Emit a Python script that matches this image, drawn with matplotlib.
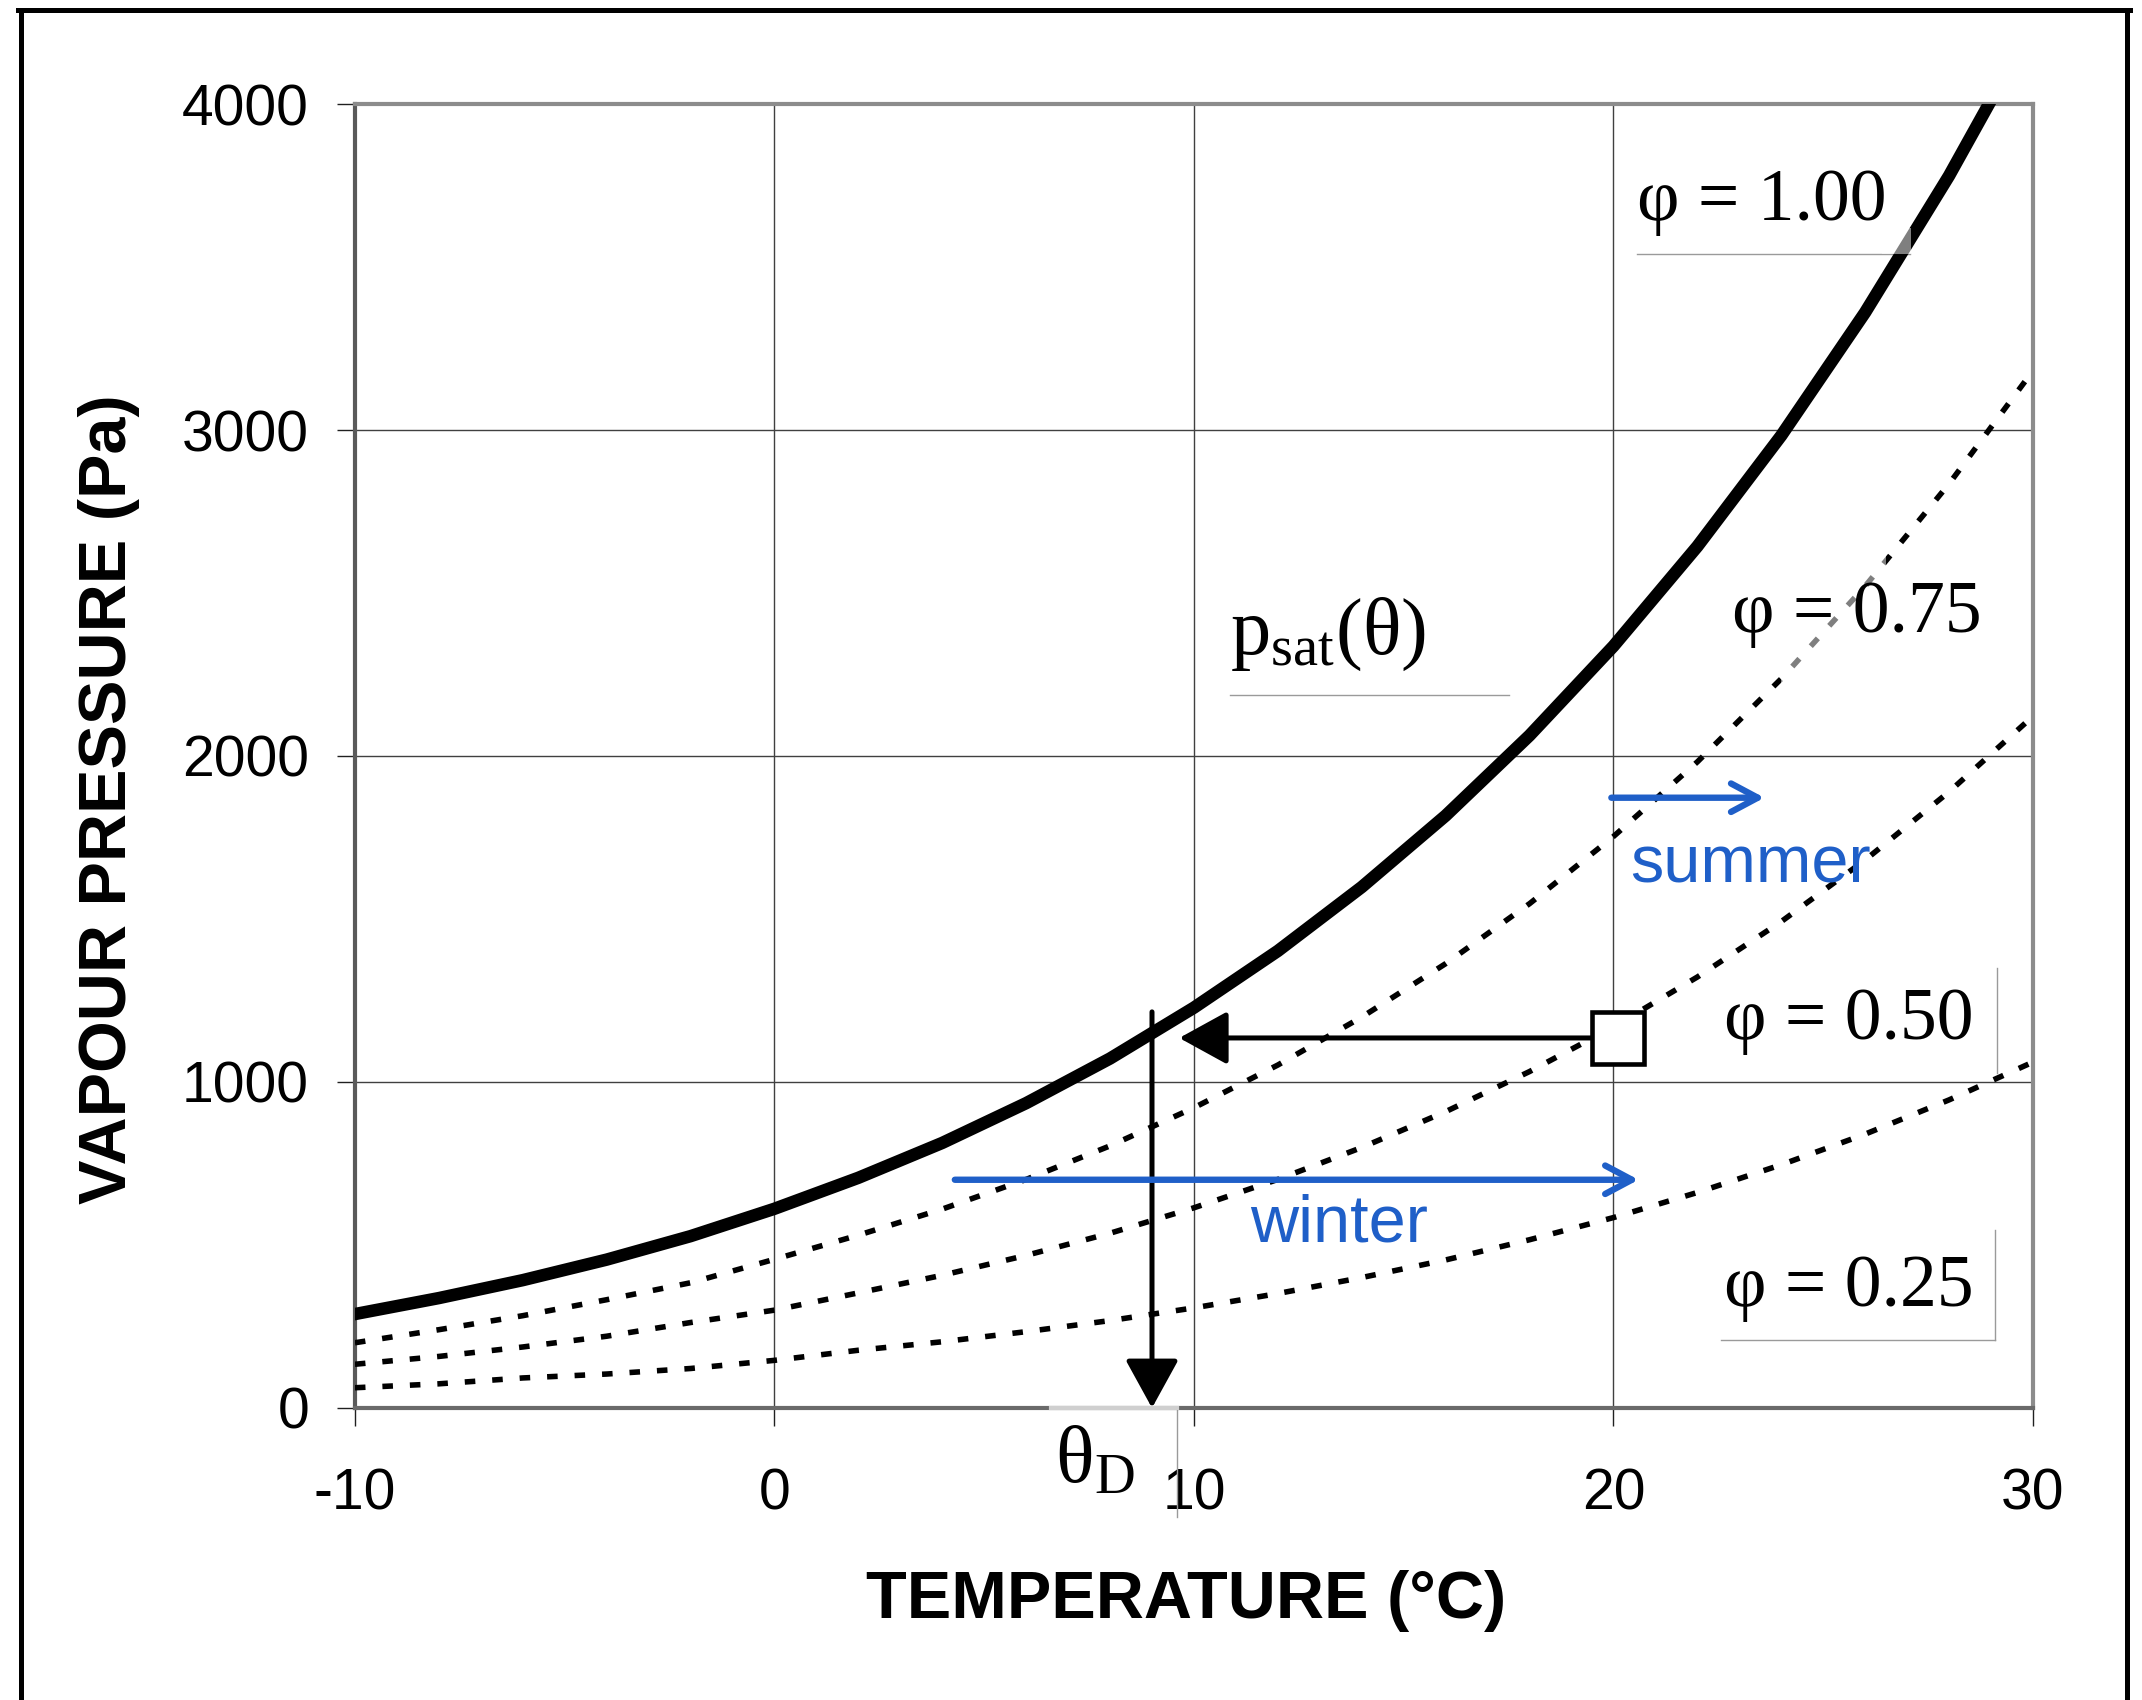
"""
Vapour pressure vs temperature (psychrometric sketch with dew point).
"""

import matplotlib.pyplot as plt
from matplotlib.lines import Line2D
from matplotlib.patches import Rectangle


plt.rcParams.update(
    {
        "font.family": "Liberation Sans",
        "mathtext.fontset": "custom",
        "mathtext.rm": "Liberation Serif",
        "mathtext.it": "Liberation Serif:italic",
    }
)


# ============================================================================
# Data
# ============================================================================

temperature = [-10, -8, -6, -4, -2, 0, 2, 4, 6, 8, 10,
               12, 14, 16, 18, 20, 22, 24, 26, 28, 30]

p_sat = [288, 337, 392, 455, 527, 611, 706, 813, 935, 1072, 1228,
         1402, 1598, 1817, 2063, 2337, 2643, 2983, 3361, 3780, 4243]

p_075 = [200, 240, 283, 332, 384, 456, 530, 610, 701, 804, 921,
         1052, 1199, 1363, 1547, 1753, 1982, 2237, 2521, 2835, 3182]

p_050 = [134, 158, 187, 220, 262, 300, 353, 407, 468, 536, 614,
         701, 799, 909, 1032, 1169, 1322, 1492, 1681, 1890, 2122]

p_025 = [62, 74, 92, 104, 121, 146, 177, 203, 234, 268, 307,
         351, 400, 454, 516, 584, 661, 746, 840, 945, 1061]

x_ticks = [-10, 0, 10, 20, 30]
y_ticks = [0, 1000, 2000, 3000, 4000]

# indoor state and its dew point
room_temp = 20.1
room_pressure = 1135
dew_point = 9.0
dew_arrow_top = 1215
sat_hit_temp = 9.65

# seasonal vapour pressure shifts
winter_start, winter_end, winter_level = 4.3, 20.6, 700
summer_start, summer_end, summer_level = 19.95, 23.6, 1872

BLUE = "#1f5fc8"
SERIF = "Liberation Serif"


# ============================================================================
# Figure
# ============================================================================

fig = plt.figure(figsize=(21.42, 17), dpi=100)
ax = fig.add_axes([0.1657, 0.1718, 0.7834, 0.7670])

ax.plot(temperature, p_sat, color="black", lw=9,
        solid_joinstyle="round", zorder=3)

dot_style = (0, (1.9, 3.05))
for series in (p_075, p_050, p_025):
    ax.plot(temperature, series, color="black", lw=4.0,
            linestyle=dot_style, dash_capstyle="butt", zorder=3)

ax.set_xlim(-10, 30)
ax.set_ylim(0, 4000)
ax.set_xticks(x_ticks)
ax.set_yticks(y_ticks)
ax.set_xticklabels([str(t) for t in x_ticks])
ax.set_yticklabels([str(t) for t in y_ticks])

ax.grid(True, color="#404040", lw=1.0)
ax.set_axisbelow(True)

ax.tick_params(axis="both", direction="out", length=13, width=1.0,
               color="#202020", labelsize=41)
ax.tick_params(axis="x", pad=30)
ax.tick_params(axis="y", pad=20)

for side, col in (("top", "#8c8c8c"), ("right", "#8c8c8c"),
                  ("left", "#5a5a5a"), ("bottom", "#6a6a6a")):
    ax.spines[side].set_color(col)
    ax.spines[side].set_linewidth(3.0)

fig.text(0.5537, 0.0582, "TEMPERATURE (°C)", fontsize=48,
         fontweight="bold", ha="center", va="center")
fig.text(0.0509, 0.530, "VAPOUR PRESSURE (Pa)", fontsize=48,
         fontweight="bold", ha="center", va="center", rotation=90)

# ----------------------------------------------------------------------------
# Dew point construction
# ----------------------------------------------------------------------------

black_head = "-|>,head_length=1.0,head_width=0.55"
ax.annotate("", xy=(sat_hit_temp, room_pressure),
            xytext=(room_temp, room_pressure),
            arrowprops=dict(arrowstyle=black_head, mutation_scale=30,
                            lw=3.6, color="black", shrinkA=0, shrinkB=0),
            zorder=5)
ax.annotate("", xy=(dew_point, 0), xytext=(dew_point, dew_arrow_top),
            arrowprops=dict(arrowstyle=black_head, mutation_scale=30,
                            lw=3.6, color="black", shrinkA=0, shrinkB=0),
            annotation_clip=False, zorder=5)
ax.plot([room_temp], [room_pressure], marker="s", markersize=37,
        markerfacecolor="white", markeredgecolor="black",
        markeredgewidth=3.3, zorder=6)

# ----------------------------------------------------------------------------
# Seasonal arrows
# ----------------------------------------------------------------------------

blue_head = "->,head_length=0.6,head_width=0.32"
ax.annotate("", xy=(winter_end, winter_level),
            xytext=(winter_start, winter_level),
            arrowprops=dict(arrowstyle=blue_head, mutation_scale=32,
                            lw=4.6, color=BLUE, shrinkA=0, shrinkB=0),
            zorder=5)
ax.annotate("", xy=(summer_end, summer_level),
            xytext=(summer_start, summer_level),
            arrowprops=dict(arrowstyle=blue_head, mutation_scale=32,
                            lw=4.6, color=BLUE, shrinkA=0, shrinkB=0),
            zorder=5)
ax.text(11.33, 511, "winter", color=BLUE, fontsize=48,
        va="baseline", ha="left", zorder=7)
ax.text(20.4, 1613, "summer", color=BLUE, fontsize=48,
        va="baseline", ha="left", zorder=7)

# ----------------------------------------------------------------------------
# Curve labels (text boxes from the original drawing)
# ----------------------------------------------------------------------------

labels = [
    (20.55, 3644, "φ = 1.00"),
    (22.83, 2379, "φ = 0.75"),
    (22.64, 1131, "φ = 0.50"),
    (22.64, 314, "φ = 0.25"),
]
for x, y, txt in labels:
    ax.text(x, y, txt, family=SERIF, fontsize=53, va="baseline",
            ha="left", zorder=7)

ax.text(10.85, 2312, r"$\mathrm{p_{sat}(θ)}$", fontsize=58,
        va="baseline", ha="left", zorder=7)
ax.text(6.68, -230, r"$\mathrm{θ_D}$", fontsize=58, va="baseline",
        ha="left", zorder=7, clip_on=False)

# faint box edges and half-transparent box fills
box_kw = dict(color="#9a9a9a", lw=1.0, zorder=2, clip_on=False)
ax.plot([20.55, 27.07], [3540, 3540], **box_kw)
ax.plot([10.85, 17.52], [2186, 2186], **box_kw)
ax.plot([29.15, 29.15], [1026, 1349], **box_kw)
ax.plot([29.09, 29.09], [209, 545], **box_kw)
ax.plot([22.57, 29.09], [209, 209], **box_kw)
ax.plot([9.6, 9.6], [0, -335], **box_kw)
ax.plot([6.6, 9.6], [0, 0], color="#cfcfcf", lw=3.0, zorder=4,
        clip_on=False)

ax.add_patch(Rectangle((24.0, 2200), 2.5, 450, facecolor="white",
                       edgecolor="none", alpha=0.5, zorder=4))
ax.add_patch(Rectangle((26.4, 3540), 0.7, 80, facecolor="white",
                       edgecolor="none", alpha=0.5, zorder=4))

# ----------------------------------------------------------------------------
# Page frame (cropped at the bottom)
# ----------------------------------------------------------------------------

frame_kw = dict(transform=fig.transFigure, color="black", lw=3.6)
fig.add_artist(Line2D([0.0096, 0.0096], [0.0, 0.9944], **frame_kw))
fig.add_artist(Line2D([0.0086, 0.9942], [0.9944, 0.9944], **frame_kw))
fig.add_artist(Line2D([0.9932, 0.9932], [0.0, 0.9944], **frame_kw))

fig.savefig("out.png", dpi=100)
plt.close(fig)
